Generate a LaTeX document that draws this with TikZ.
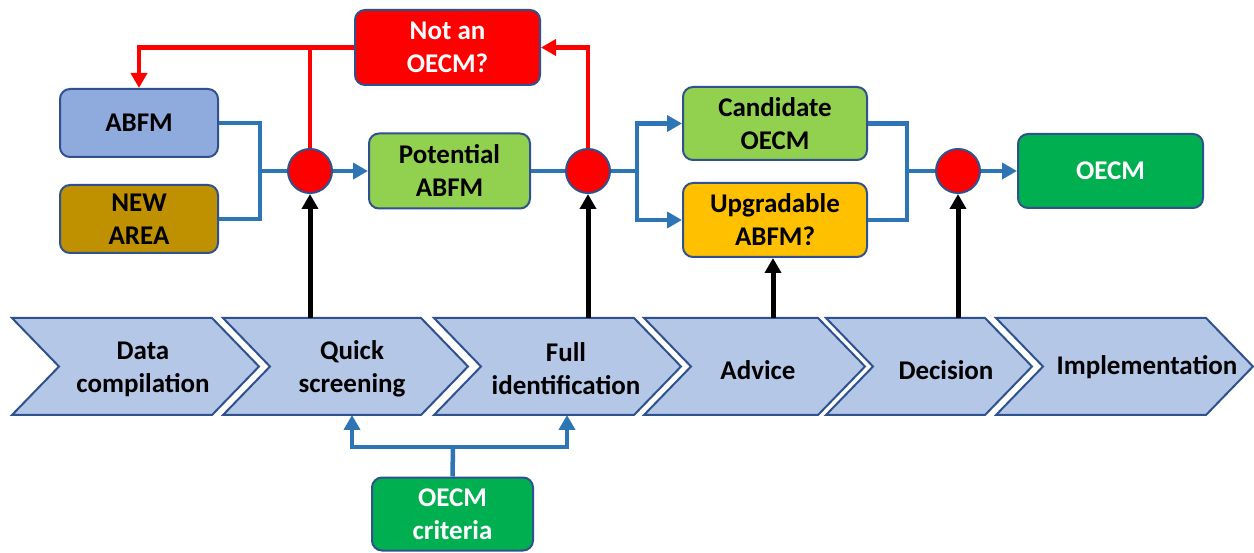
\documentclass[tikz,border=0pt]{standalone}
\usepackage{fontspec}
\setmainfont{Carlito}
\usetikzlibrary{arrows.meta}
\definecolor{bord}{HTML}{2F528F}
\definecolor{conn}{HTML}{2E75B6}
\definecolor{abfmc}{HTML}{8FAADC}
\definecolor{newc}{HTML}{BF9000}
\definecolor{lgreen}{HTML}{92D050}
\definecolor{dgreen}{HTML}{00B050}
\definecolor{amber}{HTML}{FFC000}
\definecolor{chevc}{HTML}{B4C7E7}
\definecolor{redc}{HTML}{FF0000}
\newcommand\dfont{\fontsize{27}{33}\selectfont\bfseries}
\newcommand\chevshape[2]{\draw[chev] (#1,318) -- (#2-47,318) -- (#2,366.5) -- (#2-47,415) -- (#1,415) -- (#1+47,366.5) -- cycle;}
\tikzset{
  box/.style={draw=bord, line width=2pt, rounded corners=10pt, align=center, font=\dfont, inner sep=0pt},
  circ/.style={circle, draw=bord, line width=2pt, fill=redc, minimum size=44pt, inner sep=0pt},
  chev/.style={draw=bord, line width=2pt, fill=chevc, line join=miter},
  chevtext/.style={align=center, font=\dfont, inner sep=0pt},
  blueline/.style={draw=conn, line width=4.5pt},
  bluearrow/.style={blueline, -{Triangle[length=15pt,width=16pt]}},
  redline/.style={draw=redc, line width=4.5pt},
  redarrow/.style={redline, -{Triangle[length=15pt,width=16pt]}},
  blackarrow/.style={draw=black, line width=5pt, -{Triangle[length=15pt,width=16pt]}},
}
\begin{document}
\begin{tikzpicture}[x=1pt,y=-1pt]
\useasboundingbox (0,0) rectangle (1254,553);
\fill[white] (0,0) rectangle (1254,553);

% chevrons
\chevshape{12}{259}
\chevshape{223}{468}
\chevshape{434}{681}
\chevshape{644}{865}
\chevshape{826}{1032}
\chevshape{996}{1253}
\node[chevtext] (ch1) at (143,369) {Data\\compilation};
\node[chevtext] (ch2) at (352,369) {Quick\\screening};
\node[chevtext] (ch3) at (566,369) {Full\\identification};
\node[chevtext] (ch4) at (758,370) {Advice};
\node[chevtext] (ch5) at (946,370) {Decision};
\node[chevtext] (ch6) at (1147,367) {Implementation};

% boxes
\node[box, fill=abfmc, minimum width=158pt, minimum height=68pt] (abfm) at (139,123) {ABFM};
\node[box, fill=newc, minimum width=158pt, minimum height=68pt] (new) at (139,219) {NEW\\AREA};
\node[box, fill=redc, text=white, minimum width=185pt, minimum height=75pt] (notan) at (447.5,47.5) {Not an\\OECM?};
\node[box, fill=lgreen, minimum width=161pt, minimum height=75pt] (pot) at (449.5,171) {Potential\\ABFM};
\node[box, fill=lgreen, minimum width=184pt, minimum height=73pt] (cand) at (775,123.5) {Candidate\\OECM};
\node[box, fill=amber, minimum width=184pt, minimum height=74pt] (upg) at (775,220) {Upgradable\\ABFM?};
\node[box, fill=dgreen, text=white, minimum width=185pt, minimum height=74pt] (oecm) at (1110.5,171) {OECM};
\node[box, fill=dgreen, text=white, minimum width=161pt, minimum height=73pt] (crit) at (452.5,514) {OECM\\criteria};

% junction circles
\node[circ] (c1) at (310,171) {};
\node[circ] (c2) at (588,171) {};
\node[circ] (c3) at (958,171) {};

% helper coordinates
\coordinate (j1) at (260,171);
\coordinate (j2) at (637,171);
\coordinate (j3) at (907,171);
\coordinate (j4) at (453,447);
\coordinate (k1) at (310,318);
\coordinate (k2) at (588,318);
\coordinate (k3) at (773,318);
\coordinate (k4) at (958,318);
\coordinate (b2) at (352,415);
\coordinate (b3) at (567,415);

% blue connectors
\draw[blueline] (abfm.east) -| (j1);
\draw[blueline] (new.east) -| (j1);
\draw[blueline] (j1) -- (c1.west);
\draw[bluearrow] (c1.east) -- (pot.west);
\draw[blueline] (pot.east) -- (c2.west);
\draw[blueline] (c2.east) -- (j2);
\draw[bluearrow] (j2) |- (cand.west);
\draw[bluearrow] (j2) |- (upg.west);
\draw[blueline] (cand.east) -| (j3);
\draw[blueline] (upg.east) -| (j3);
\draw[blueline] (j3) -- (c3.west);
\draw[bluearrow] (c3.east) -- (oecm.west);
\draw[blueline] (crit.north) -- (j4);
\draw[bluearrow] (j4) -| (b2);
\draw[bluearrow] (j4) -| (b3);

% red connectors
\draw[redarrow] (notan.west) -| (abfm.north);
\draw[redline] (c1.north) -- (c1.north |- notan.west);
\draw[redarrow] (c2.north) |- (notan.east);

% black arrows
\draw[blackarrow] (k1) -- (c1.south);
\draw[blackarrow] (k2) -- (c2.south);
\draw[blackarrow] (k3) -- (k3 |- upg.south);
\draw[blackarrow] (k4) -- (c3.south);
\end{tikzpicture}
\end{document}
